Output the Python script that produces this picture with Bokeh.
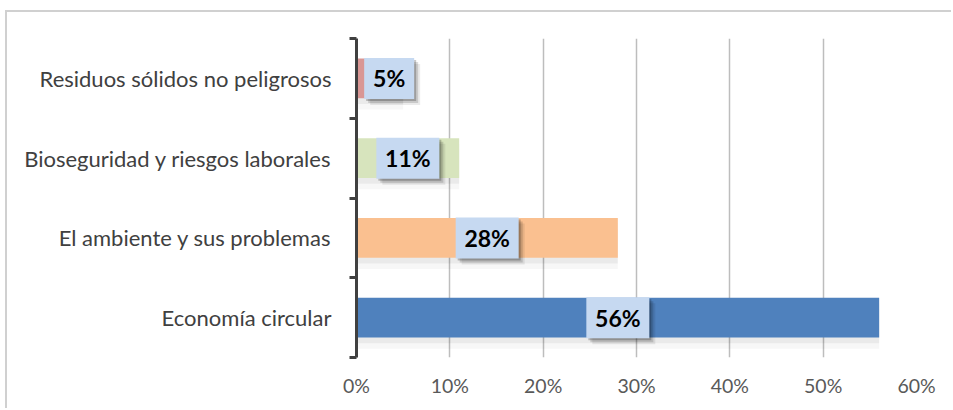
from bokeh.plotting import figure
from bokeh.models import (Range1d, LinearAxis, FixedTicker,
                          NumeralTickFormatter, ColumnDataSource)
from bokeh.core.properties import value
from bokeh.embed import file_html
from bokeh.resources import INLINE

# Data (bottom to top)
categories = ["Economía circular",
              "El ambiente y sus problemas",
              "Bioseguridad y riesgos laborales",
              "Residuos sólidos no peligrosos"]
shares = [0.56, 0.28, 0.11, 0.05]
bar_colors = ["#4F81BD", "#FAC090", "#D7E4BD", "#D99694"]
x_ticks = [0.0, 0.1, 0.2, 0.3, 0.4, 0.5, 0.6]

FONT = "Lato"

ys = [i + 0.5 for i in range(len(categories))]
bounds = list(range(len(categories) + 1))
labels = [f"{round(v * 100)}%" for v in shares]
# keep the value boxes clear of the axis line
label_x = [max(v / 2, 0.035) for v in shares]
box_w = [24 + 13 * len(t) for t in labels]

PX_X = 0.6 / 559.0   # data units per screen pixel along x
PX_Y = 4.0 / 319.0   # data units per screen pixel along y

data = dict(y=ys, right=shares, color=bar_colors, lx=label_x,
            label=labels, bw=box_w,
            sh1=[y - 0.07 for y in ys], sh2=[y - 0.14 for y in ys])
for k, d in enumerate([2, 4, 6]):
    data[f"sx{k}"] = [x + d * PX_X for x in label_x]
    data[f"sy{k}"] = [y - d * PX_Y for y in ys]
src = ColumnDataSource(data)

p = figure(width=946, height=398,
           x_range=Range1d(0, 0.6), y_range=Range1d(0, 4),
           output_backend="svg", toolbar_location=None,
           min_border_left=349, min_border_right=37,
           min_border_top=26, min_border_bottom=53)
p.styles = {"margin-left": "5px", "margin-top": "10px",
            "border-left": "2px solid #d0d0d0",
            "border-top": "2px solid #d0d0d0"}
p.outline_line_color = None
p.background_fill_color = "#ffffff"
p.border_fill_color = "#ffffff"

# vertical grid
p.xgrid.ticker = FixedTicker(ticks=x_ticks)
p.xgrid.grid_line_color = "#bdbdbd"
p.xgrid.grid_line_width = 1.5
p.ygrid.grid_line_color = None

# x axis: percent labels only
p.xaxis.ticker = FixedTicker(ticks=x_ticks)
p.xaxis.formatter = NumeralTickFormatter(format="0%")
p.xaxis.axis_line_color = None
p.xaxis.major_tick_line_color = None
p.xaxis.minor_tick_line_color = None
p.xaxis.major_label_text_font = FONT
p.xaxis.major_label_text_font_size = "19.5px"
p.xaxis.major_label_text_color = "#595959"
p.xaxis.major_label_standoff = 10

# y axis line with category boundary ticks
yax = p.yaxis[0]
yax.ticker = FixedTicker(ticks=bounds)
yax.major_label_overrides = {b: "" for b in bounds}
yax.major_label_standoff = 0
yax.axis_line_width = 3
yax.axis_line_color = "#404040"
yax.major_tick_line_width = 3
yax.major_tick_line_color = "#404040"
yax.major_tick_out = 7
yax.major_tick_in = 0
yax.minor_tick_line_color = None

# category names at the band centres
cax = LinearAxis(ticker=FixedTicker(ticks=ys))
cax.major_label_overrides = {y: c for y, c in zip(ys, categories)}
cax.axis_line_color = None
cax.major_tick_line_color = None
cax.minor_tick_line_color = None
cax.major_label_text_font = FONT
cax.major_label_text_font_size = "22px"
cax.major_label_text_color = "#404040"
cax.major_label_standoff = 12
p.left = [yax, cax]

# soft shading under the bars
p.hbar(y="sh1", left=0, right="right", height=0.5, source=src,
       fill_color="#000000", fill_alpha=0.05, line_color=None)
p.hbar(y="sh2", left=0, right="right", height=0.5, source=src,
       fill_color="#000000", fill_alpha=0.03, line_color=None)

# bars
p.hbar(y="y", left=0, right="right", height=0.5, source=src,
       fill_color="color", line_color=None)

# value boxes with a soft drop shadow
for k, a in enumerate([0.22, 0.14, 0.08]):
    p.rect(x=f"sx{k}", y=f"sy{k}", width="bw", height=41,
           width_units="screen", height_units="screen", source=src,
           fill_color="#000000", fill_alpha=a, line_color=None)
p.rect(x="lx", y="y", width="bw", height=41, width_units="screen",
       height_units="screen", source=src, fill_color="#C6D9F1",
       line_color=None)
p.text(x="lx", y="y", text="label", source=src, text_align="center",
       text_baseline="middle", text_font=value(FONT),
       text_font_style="bold", text_font_size="23px", text_color="#000000")

open("out.html", "w").write(file_html(p, INLINE))
